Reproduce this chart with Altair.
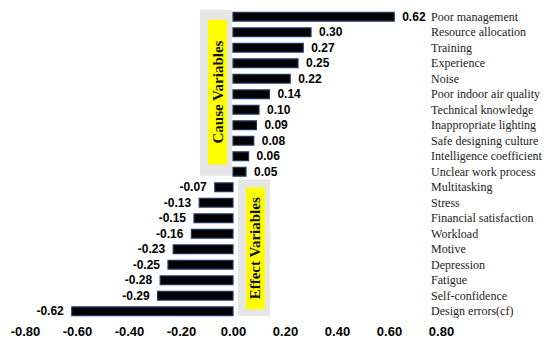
import altair as alt
import pandas as pd

categories = ["Poor management", "Resource allocation", "Training", "Experience", "Noise",
              "Poor indoor air quality", "Technical knowledge", "Inappropriate lighting",
              "Safe designing culture", "Intelligence coefficient", "Unclear work process",
              "Multitasking", "Stress", "Financial satisfaction", "Workload", "Motive",
              "Depression", "Fatigue", "Self-confidence", "Design errors(cf)"]
values = [0.62, 0.30, 0.27, 0.25, 0.22, 0.14, 0.10, 0.09, 0.08, 0.06, 0.05,
          -0.07, -0.13, -0.15, -0.16, -0.23, -0.25, -0.28, -0.29, -0.62]
tick_values = [-0.8, -0.6, -0.4, -0.2, 0.0, 0.2, 0.4, 0.6, 0.8]
group_names = ["Cause Variables", "Effect Variables"]

df = pd.DataFrame({"cat": categories, "val": values, "row": list(range(len(categories)))})
df["lbl"] = [f"{v:.2f}" for v in values]

# annotation boxes (in data units of the shared scales)
boxes = pd.DataFrame({
    "name": group_names,
    "gx1": [-0.127, 0.019], "gx2": [-0.004, 0.142],
    "gy1": [-0.45, 10.5], "gy2": [10.25, 19.3],
    "yx1": [-0.096, 0.05], "yx2": [-0.023, 0.123],
    "yy1": [0.19, 11.0], "yy2": [9.53, 18.87],
    "tx": [-0.059, 0.0865], "ty": [4.86, 14.94],
})

x_axis = alt.Axis(
    values=tick_values, format=".2f", labelExpr="replace(datum.label, '\u2212', '-')",
    domain=False, ticks=False, grid=False, title="", labelFlush=False,
    labelFont="Liberation Sans", labelFontWeight="bold", labelFontSize=13,
    labelColor="#000000", labelPadding=6)


def X(field):
    return alt.X(field, type="quantitative", axis=x_axis,
                 scale=alt.Scale(domain=[-0.8, 0.8], nice=False, zero=False))


def Y(field):
    return alt.Y(field, type="quantitative", axis=None,
                 scale=alt.Scale(domain=[-0.5, 19.5], reverse=True, nice=False, zero=False))


base = alt.Chart(df)
bx = alt.Chart(boxes)

gray = bx.mark_rect(color="#e6e6e6").encode(
    x=X("gx1"), x2="gx2:Q", y=Y("gy1"), y2="gy2:Q")
yel = bx.mark_rect(color="#ffff00").encode(
    x=X("yx1"), x2="yx2:Q", y=Y("yy1"), y2="yy2:Q")
gtxt = bx.mark_text(angle=270, font="Liberation Serif", fontWeight="bold", fontSize=15,
                    color="#111111", baseline="middle", align="center").encode(
    x=X("tx"), y=Y("ty"), text="name:N")

bars = base.mark_rect(color="#000000", stroke="#1f3864", strokeWidth=1.2).transform_calculate(
    y0="datum.row - 0.28", y1="datum.row + 0.28", zero="0"
).encode(
    x=X("val"),
    x2="zero:Q",
    y=Y("y0"),
    y2="y1:Q",
)

pos_lbl = base.transform_filter("datum.val >= 0").mark_text(
    align="left", baseline="middle", dx=8, font="Liberation Sans", fontWeight="bold",
    fontSize=12, color="#000000"
).encode(x=X("val"), y=Y("row"), text="lbl:N")

neg_lbl = base.transform_filter("datum.val < 0").mark_text(
    align="right", baseline="middle", dx=-8, font="Liberation Sans", fontWeight="bold",
    fontSize=12, color="#000000"
).encode(x=X("val"), y=Y("row"), text="lbl:N")

cat_lbl = base.transform_calculate(lx="0.762").mark_text(
    align="left", baseline="middle", font="Liberation Serif", fontSize=12, color="#222222"
).encode(x=X("lx"), y=Y("row"), text="cat:N")

chart = alt.layer(
    bars, gray, yel, gtxt, pos_lbl, neg_lbl, cat_lbl
).properties(
    width=416, height=310,
    autosize=alt.AutoSizeParams(type="none"),
    padding=alt.Padding(left=17, top=1, right=101, bottom=20),
).configure_view(strokeWidth=0)

chart.save("out.html", embed_options={"renderer": "svg", "actions": False})
